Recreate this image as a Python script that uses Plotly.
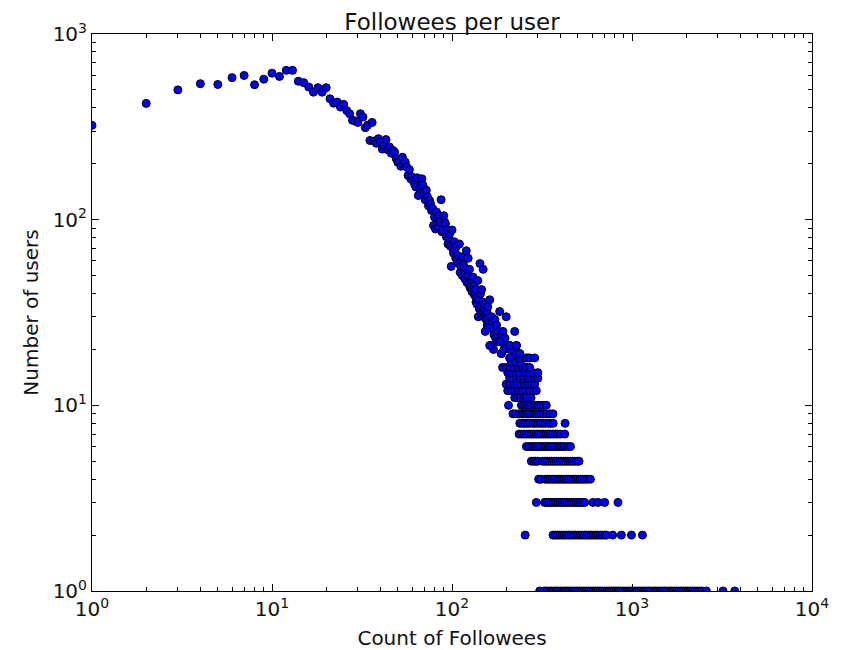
import plotly.graph_objects as go

# --- data (followee count -> number of users) ---
head_counts = [1, 2, 3, 4, 5, 6, 7, 8, 9, 10, 11, 12, 13, 14, 15, 16, 17, 18, 19, 20,
               21, 22, 23, 24, 25, 26, 27, 28]
head_users = [322, 423, 500, 540, 535, 582, 598, 533, 571, 615, 591, 637, 637, 557, 547,
              518, 486, 514, 486, 514, 448, 424, 430, 404, 418, 387, 372, 343]

mid_counts = [29, 30, 31, 32, 33, 34, 35, 36, 37, 38, 39, 40, 41, 42, 43, 44, 45, 46, 47, 48,
              49, 50, 51, 52, 53, 54, 55, 56, 57, 58, 59, 60, 61, 62, 63, 64, 65, 66, 67, 68,
              69, 70, 71, 72, 73, 74, 75, 76, 77, 78, 79, 80, 81, 82, 83, 84, 85, 86, 87, 88,
              89, 90, 91, 92, 93, 94, 95, 96, 97, 98, 99, 100, 101, 102, 103, 104, 105, 106, 107, 108,
              109, 110, 111, 112, 113, 114, 115, 116, 117, 118, 119, 120, 121, 122, 123, 124, 125, 126, 127, 128,
              129, 130, 131, 132, 133, 134, 135, 136, 137, 138, 139, 140, 141, 142, 143, 144, 145, 146, 147, 148,
              149, 150, 151, 152, 153, 154, 155, 156, 157, 158, 159, 160, 162, 164, 166, 168, 169, 171, 173, 175,
              177, 179, 181, 184, 186, 188, 190, 192, 195, 197, 200, 203, 209, 212, 214, 218, 221, 223, 226, 228,
              231, 233, 236, 238, 243, 248, 252, 256, 260, 264, 270, 275, 280, 288]
mid_users = [340, 334, 372, 357, 313, 323, 267, 334, 265, 258, 273, 262, 240, 251, 270, 238, 246, 228, 236, 231,
             213, 204, 204, 194, 217, 198, 204, 192, 173, 186, 166, 170, 161, 155, 150, 168, 135, 147, 152, 166,
             153, 140, 128, 144, 133, 119, 127, 122, 112, 115, 93, 103, 89, 110, 102, 91, 105, 97, 128, 86,
             88, 105, 97, 95, 81, 88, 74, 80, 84, 72, 56, 88, 70, 66, 76, 69, 62, 72, 60, 64,
             58, 74, 52, 56, 60, 50, 63, 57, 55, 48, 51, 68, 46, 50, 62, 45, 54, 43, 48, 44,
             41, 47, 49, 40, 44, 39, 42, 36, 38, 35, 47, 30, 37, 33, 58, 40, 34, 42, 31, 36,
             54, 30, 33, 35, 25, 31, 29, 32, 27, 34, 28, 26, 37, 21, 30, 28, 26, 24, 29, 23,
             27, 22, 25, 32, 22, 19, 24, 25, 20, 23, 30, 21, 21, 18, 17, 15, 19, 25, 17, 21,
             16, 16, 14, 19, 15, 13, 14, 16, 12, 18, 13, 11, 14, 12]

tail_levels = [1, 2, 3, 4, 5, 6, 7, 8, 9, 10, 11, 12, 13, 14, 15, 16, 17, 18, 19, 20, 21, 22]
tail_counts = [
    [307, 327, 337, 347, 357, 368, 379, 390, 402, 414, 426, 439, 452, 466, 480, 494, 509, 524, 540, 556,
     573, 590, 608, 626, 645, 664, 684, 705, 726, 748, 770, 793, 817, 842, 867, 893, 920, 947, 976, 1005,
     1035, 1066, 1098, 1131, 1165, 1200, 1236, 1273, 1311, 1351, 1391, 1433, 1476, 1520, 1566, 1613, 1661,
     1711, 1763, 1815, 1870, 1926, 1984, 2043, 2105, 2168, 2233, 2300, 2369, 2440, 2590, 3206, 3721],
    [255, 364, 374, 385, 396, 408, 420, 432, 445, 458, 471, 485, 499, 514, 529, 545, 561, 577, 594, 612,
     630, 648, 667, 687, 707, 721, 781, 873, 993, 1143],
    [294, 327, 336, 346, 356, 366, 377, 388, 399, 411, 423, 435, 448, 461, 475, 489, 503, 518, 533, 546,
     607, 647, 705, 836],
    [303, 312, 330, 340, 350, 361, 372, 383, 395, 407, 419, 432, 445, 458, 472, 486, 501, 516, 532, 548,
     565, 587],
    [276, 285, 292, 300, 318, 328, 338, 348, 358, 369, 380, 391, 403, 415, 427, 440, 453, 467, 481, 495, 508],
    [259, 268, 276, 285, 294, 303, 312, 322, 332, 342, 352, 363, 374, 385, 397, 409, 421, 440, 455],
    [236, 244, 252, 260, 268, 276, 285, 294, 303, 312, 322, 332, 342, 352, 363, 374, 385, 400, 423],
    [238, 246, 254, 262, 270, 282, 290, 300, 310, 320, 330, 345, 355, 365, 425],
    [218, 226, 236, 244, 250, 258, 266, 275, 284, 293, 302, 312, 322, 335, 350, 364],
    [206, 243, 250, 258, 266, 274, 283, 292, 302, 312, 322, 334],
    [223, 231, 240, 250, 259],
    [204, 214, 224, 234, 245, 256, 270, 283, 294],
    [200, 210, 220, 231, 242, 253, 265, 277, 288],
    [209, 219, 229, 240, 251, 263, 275, 288, 300],
    [204, 213, 226, 236, 255, 268, 282, 300],
    [191, 200, 210, 220, 233, 246, 258, 270],
    [214, 226, 240],
    [209, 238, 259, 270, 288],
    [188, 238],
    [170, 195, 210],
    [162, 209, 228],
    [184],
]

x_tick_vals = [1, 10, 100, 1000, 10000]
x_tick_text = ["10<sup>0</sup>", "10<sup>1</sup>", "10<sup>2</sup>", "10<sup>3</sup>", "10<sup>4</sup>"]
y_tick_vals = [1, 10, 100, 1000]
y_tick_text = ["10<sup>0</sup>", "10<sup>1</sup>", "10<sup>2</sup>", "10<sup>3</sup>"]

# --- assemble ---
xs = list(head_counts) + list(mid_counts)
ys = list(head_users) + list(mid_users)
for lvl, cnts in zip(tail_levels, tail_counts):
    xs.extend(cnts)
    ys.extend([lvl] * len(cnts))

fig = go.Figure(go.Scatter(
    x=xs, y=ys, mode="markers",
    marker=dict(size=8, color="#0000ff", line=dict(color="black", width=1)),
    cliponaxis=True, hoverinfo="skip",
))

minor_x = [m * 10 ** e for e in range(4) for m in range(2, 10)]
minor_y = [m * 10 ** e for e in range(3) for m in range(2, 10)]

font = "DejaVu Sans, sans-serif"
axis_common = dict(
    type="log", showgrid=False, zeroline=False, showline=True, linecolor="black",
    linewidth=1, mirror="allticks", ticks="inside", ticklen=7, tickwidth=1,
    tickcolor="black", tickfont=dict(family=font, size=20, color="#111111"),
    tickmode="array", automargin=False,
)

# page body has an 8px default margin, so the figure is sized to fit the 841x650 window
fig.update_layout(
    width=833, height=642,
    margin=dict(l=84, r=29, t=26, b=59, pad=0, autoexpand=False),
    paper_bgcolor="white", plot_bgcolor="white",
    showlegend=False,
    title=dict(text="Followees per user", x=0.5, xref="paper", xanchor="center",
               y=1, yref="paper", yanchor="bottom", pad=dict(b=4),
               font=dict(family=font, size=23, color="#111111")),
    xaxis=dict(**axis_common, range=[0, 4], tickvals=x_tick_vals, ticktext=x_tick_text,
               minor=dict(tickvals=minor_x, ticks="inside", ticklen=4, tickcolor="black"),
               title=dict(text="Count of Followees", font=dict(family=font, size=20, color="#111111"),
                          standoff=12)),
    yaxis=dict(**axis_common, range=[0, 3], tickvals=y_tick_vals, ticktext=y_tick_text,
               minor=dict(tickvals=minor_y, ticks="inside", ticklen=4, tickcolor="black"),
               title=dict(text="Number of users", font=dict(family=font, size=20, color="#111111"),
                          standoff=8)),
)

fig.write_html("out.html")
